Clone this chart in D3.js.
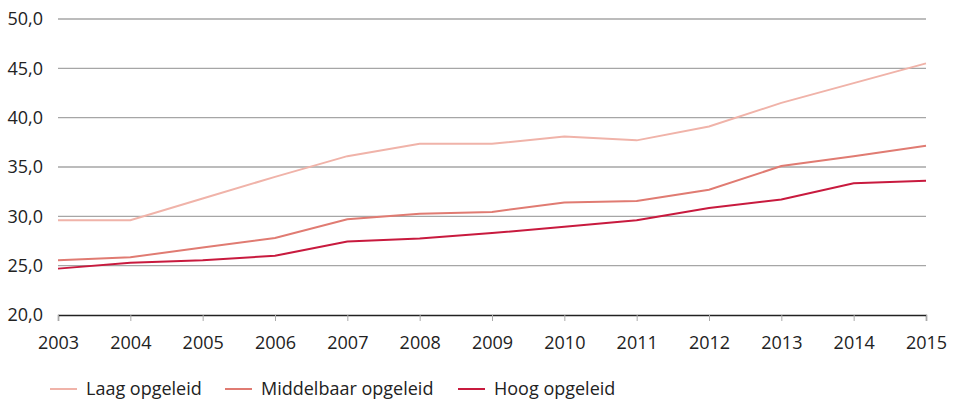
<!DOCTYPE html>
<html>
<head>
<meta charset="utf-8">
<script src="https://cdn.jsdelivr.net/npm/d3@7"></script>
<style>
  body { margin: 0; background: #fff; }
  svg text { font-family: "Open Sans", sans-serif; fill: #222; }
</style>
</head>
<body>
<svg id="chart" width="954" height="400"></svg>
<script>
const years = [2003, 2004, 2005, 2006, 2007, 2008, 2009, 2010, 2011, 2012, 2013, 2014, 2015];
const laag = [29.6, 29.6, 31.8, 34.0, 36.1, 37.35, 37.35, 38.1, 37.7, 39.1, 41.5, 43.5, 45.5];
const middelbaar = [25.55, 25.85, 26.85, 27.8, 29.7, 30.25, 30.45, 31.4, 31.55, 32.7, 35.1, 36.1, 37.15];
const hoog = [24.7, 25.3, 25.55, 26.0, 27.45, 27.75, 28.3, 28.95, 29.6, 30.85, 31.7, 33.35, 33.6];
const yTicks = [20, 25, 30, 35, 40, 45, 50];

const series = [
    { name: "Laag opgeleid", values: laag, color: "#f0b3a9" },
    { name: "Middelbaar opgeleid", values: middelbaar, color: "#e07b72" },
    { name: "Hoog opgeleid", values: hoog, color: "#c81a3e" },
];

const svg = d3.select("#chart");
const x = d3.scaleLinear().domain([2003, 2015]).range([58, 926]);
const y = d3.scaleLinear().domain([20, 50]).range([315, 19]);
const fmt = d => d.toFixed(1).replace(".", ",");

// grid
svg.append("g")
    .selectAll("line")
    .data(yTicks.filter(d => d > 20))
    .enter()
    .append("line")
    .attr("x1", x(2003)).attr("x2", x(2015))
    .attr("y1", d => y(d)).attr("y2", d => y(d))
    .attr("stroke", "#a6a6a6")
    .attr("stroke-width", 1.3);

// y labels
svg.append("g")
    .selectAll("text")
    .data(yTicks)
    .enter()
    .append("text")
    .attr("x", 43)
    .attr("y", d => y(d))
    .attr("dy", "0.35em")
    .attr("text-anchor", "end")
    .style("font-size", "18px")
    .text(fmt);

// x axis
const xAxis = svg.append("g")
    .attr("transform", `translate(0,${y(20)})`)
    .call(d3.axisBottom(x).tickValues(years).tickFormat(d3.format("d")).tickSize(6).tickPadding(15));
xAxis.select(".domain").attr("stroke", "#222").attr("stroke-width", 1.3);
xAxis.selectAll(".tick line").attr("stroke", "#aaa");
xAxis.selectAll("text").style("font-family", "Open Sans").style("font-size", "18px").attr("fill", "#222");

// lines
const line = d3.line().x((d, i) => x(years[i])).y(d => y(d));
svg.append("g")
    .selectAll("path")
    .data(series)
    .enter()
    .append("path")
    .attr("d", d => line(d.values))
    .attr("fill", "none")
    .attr("stroke", d => d.color)
    .attr("stroke-width", 2);

// legend
const legendX = [50, 225, 458];
const leg = svg.append("g")
    .selectAll("g")
    .data(series)
    .enter()
    .append("g")
    .attr("transform", (d, i) => `translate(${legendX[i]},389)`);
leg.append("line")
    .attr("x1", 0).attr("x2", 27)
    .attr("stroke", d => d.color)
    .attr("stroke-width", 2);
leg.append("text")
    .attr("x", 36)
    .attr("dy", "0.35em")
    .style("font-size", "18px")
    .text(d => d.name);
</script>
</body>
</html>
